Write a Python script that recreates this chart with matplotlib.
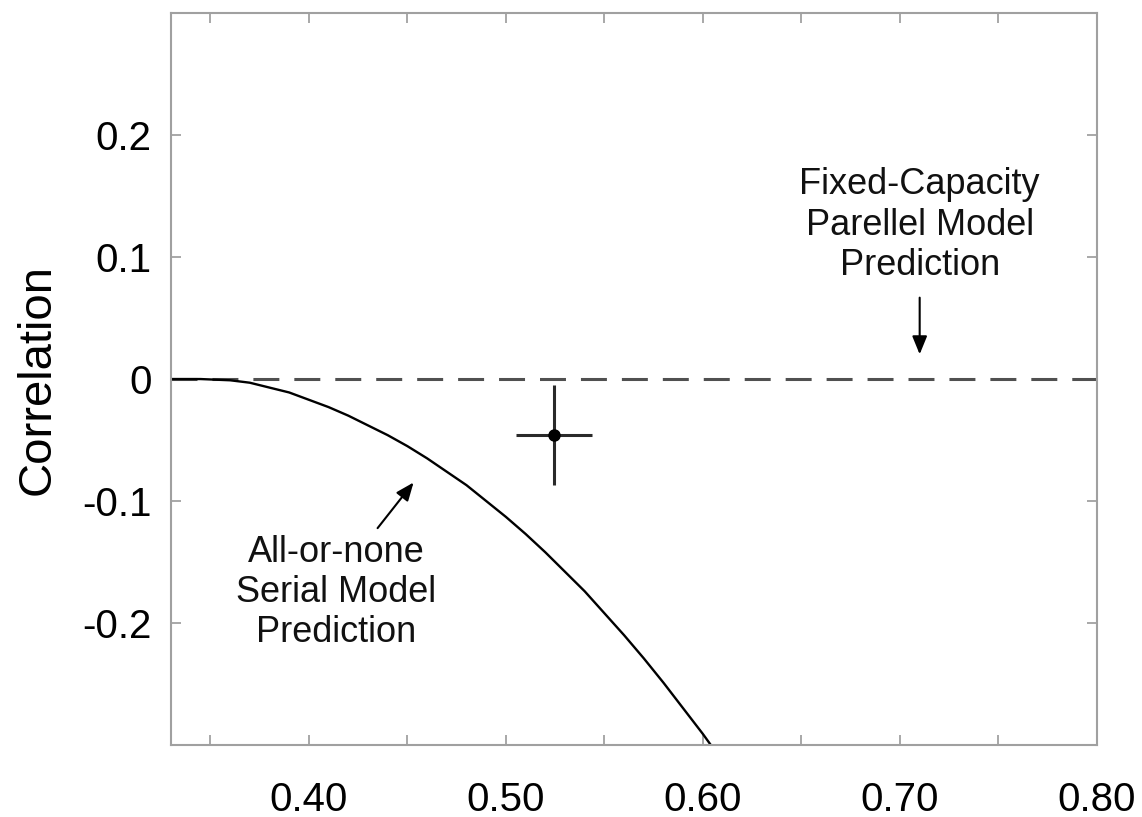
import matplotlib
matplotlib.use("Agg")
import matplotlib.pyplot as plt

plt.rcParams['font.family'] = ['Liberation Sans', 'DejaVu Sans']

# serial model prediction curve
serial_x = [0.33, 0.345, 0.36, 0.37, 0.38, 0.39, 0.40, 0.41, 0.42, 0.43, 0.44, 0.45,
            0.46, 0.47, 0.48, 0.49, 0.50, 0.51, 0.52, 0.53, 0.54, 0.55, 0.56,
            0.57, 0.58, 0.59, 0.60, 0.604]
serial_y = [0.0, 0.0, -0.001, -0.003, -0.007, -0.011, -0.017, -0.023, -0.030, -0.038,
            -0.046, -0.055, -0.065, -0.076, -0.087, -0.100, -0.113, -0.127, -0.142,
            -0.158, -0.174, -0.192, -0.210, -0.229, -0.249, -0.270, -0.291, -0.30]

# parallel model prediction (flat at zero)
parallel_x = [0.33, 0.80]
parallel_y = [0.0, 0.0]

# observed point with errors
obs_x = [0.5244]
obs_y = [-0.046]
obs_xerr = [0.0195]
obs_yerr = [0.041]

xticks = [0.35, 0.40, 0.45, 0.50, 0.55, 0.60, 0.65, 0.70, 0.75, 0.80]
xticklabels = ['', '0.40', '', '0.50', '', '0.60', '', '0.70', '', '0.80']
yticks = [-0.2, -0.1, 0.0, 0.1, 0.2]
yticklabels = ['-0.2', '-0.1', '0', '0.1', '0.2']

fig = plt.figure(figsize=(11.42, 8.17), dpi=100)
ax = fig.add_axes([0.1497, 0.0881, 0.8109, 0.8959])

ax.plot(parallel_x, parallel_y, color='#505050', lw=2.2, dashes=(8.5, 4.9))
ax.plot(serial_x, serial_y, color='black', lw=1.7)
ax.errorbar(obs_x, obs_y, xerr=obs_xerr, yerr=obs_yerr, fmt='o', color='black',
            ecolor='#2a2a2a', elinewidth=2.2, capsize=0, markersize=8)

ax.set_xlim(0.33, 0.80)
ax.set_ylim(-0.30, 0.30)
ax.set_xticks(xticks)
ax.set_xticklabels(xticklabels)
ax.set_yticks(yticks)
ax.set_yticklabels(yticklabels)
ax.tick_params(direction='in', length=7, width=1.2, color='#999999',
               top=True, right=True, labelsize=29)
ax.tick_params(axis='x', pad=26)
ax.tick_params(axis='y', pad=14)
for sp in ax.spines.values():
    sp.set_color('#a0a0a0')
    sp.set_linewidth(1.5)

ax.set_ylabel('Correlation', fontsize=34, labelpad=16)

arrow_style = dict(arrowstyle='-|>,head_length=1.1,head_width=0.45',
                   color='black', lw=1.5)

ax.text(0.710, 0.126, 'Fixed-Capacity\nParellel Model\nPrediction', fontsize=26,
        ha='center', va='center', linespacing=1.2, color='#111111')
ax.annotate('', xy=(0.710, 0.018), xytext=(0.710, 0.069), arrowprops=arrow_style)

ax.text(0.4137, -0.175, 'All-or-none\nSerial Model\nPrediction', fontsize=26,
        ha='center', va='center', linespacing=1.2, color='#111111')
ax.annotate('', xy=(0.454, -0.083), xytext=(0.434, -0.124), arrowprops=arrow_style)

fig.savefig('out.png', dpi=100)
